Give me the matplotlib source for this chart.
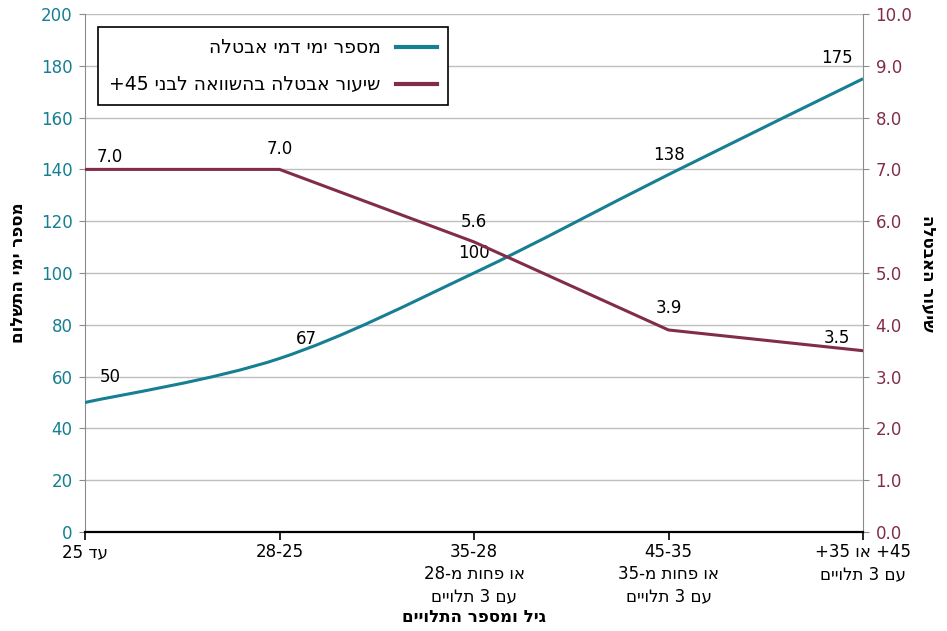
import re
import numpy as np
import matplotlib
matplotlib.use("Agg")
import matplotlib.pyplot as plt
from matplotlib.path import Path
from matplotlib.patches import PathPatch
from matplotlib.lines import Line2D

plt.rcParams['font.family'] = ['DejaVu Sans']


def rtl(s):
    # matplotlib draws left-to-right, so flip the string and put digit runs back
    r = s[::-1]
    return re.sub(r'[0-9.]+', lambda m: m.group(0)[::-1], r)


categories = [
    rtl("עד 25"),
    rtl("25-28"),
    "\n".join([rtl("28-35"), rtl("או פחות מ-28"), rtl("עם 3 תלויים")]),
    "\n".join([rtl("35-45"), rtl("או פחות מ-35"), rtl("עם 3 תלויים")]),
    "\n".join([rtl("45+ או 35+"), rtl("עם 3 תלויים")]),
]
days = [50, 67, 100, 138, 175]
rate = [7.0, 7.0, 5.6, 3.9, 3.5]

label_days = rtl("מספר ימי דמי אבטלה")
label_rate = rtl("שיעור אבטלה בהשוואה לבני 45+")
ylabel_left = rtl("מספר ימי התשלום")
ylabel_right = rtl("שיעור האבטלה")
xlabel = rtl("גיל ומספר התלויים")

TEAL = "#167f92"
MAROON = "#822d47"

fig = plt.figure(figsize=(9.47, 6.31), dpi=100)
ax = fig.add_axes([85 / 947, 99 / 631, 778 / 947, 518 / 631])
ax2 = ax.twinx()

x = np.arange(len(days))


def smooth_path(xs, ys, t=0.5):
    # Catmull-Rom style bezier through the points (smoothed line)
    pts = np.column_stack([xs, ys]).astype(float)
    verts = [pts[0]]
    codes = [Path.MOVETO]
    n = len(pts)
    for i in range(n - 1):
        p0 = pts[i - 1] if i > 0 else pts[i]
        p1 = pts[i]
        p2 = pts[i + 1]
        p3 = pts[i + 2] if i + 2 < n else pts[i + 1]
        c1 = p1 + (p2 - p0) * t / 3
        c2 = p2 - (p3 - p1) * t / 3
        verts += [c1, c2, p2]
        codes += [Path.CURVE4] * 3
    return Path(verts, codes)


ax.add_patch(PathPatch(smooth_path(x, days), facecolor="none", edgecolor=TEAL,
                       lw=2.2, zorder=3, capstyle="butt"))
ax2.plot(x, rate, color=MAROON, lw=2.2, zorder=3)

ax.set_xlim(0, 4)
ax.set_ylim(0, 200)
ax2.set_ylim(0, 10)
ax.set_yticks(range(0, 201, 20))
ax2.set_yticks(np.arange(0, 10.01, 1.0))
ax2.set_yticklabels([f"{v:.1f}" for v in np.arange(0, 10.01, 1.0)])
ax.set_xticks(x)
ax.set_xticklabels(categories, fontsize=12, linespacing=1.3)

ax.grid(axis="y", color="#bfbfbf", lw=1)
ax.set_axisbelow(True)
ax.tick_params(axis="y", labelcolor=TEAL, labelsize=12, length=4,
               color="#8c8c8c", pad=5)
ax2.tick_params(axis="y", labelcolor=MAROON, labelsize=12, length=4,
                color="#8c8c8c", pad=5)
ax.tick_params(axis="x", length=6, width=1.2, color="black", pad=2)

ax.spines["top"].set_visible(False)
ax2.spines["top"].set_visible(False)
ax.spines["left"].set_color("#8c8c8c")
ax2.spines["left"].set_visible(False)
ax2.spines["right"].set_color("#8c8c8c")
ax.spines["right"].set_visible(False)
ax2.spines["bottom"].set_color("black")
ax2.spines["bottom"].set_linewidth(1.6)
ax.spines["bottom"].set_visible(False)

ax.set_ylabel(ylabel_left, fontsize=12, fontweight="bold", labelpad=10)
ax2.set_ylabel(ylabel_right, fontsize=12, fontweight="bold", rotation=270,
               labelpad=18)
ax.set_xlabel(xlabel, fontsize=12, fontweight="bold", labelpad=2)

# value labels, offsets in pixels from each point
day_offsets = [(25, 26), (27, 19), (0, 20), (0, 20), (-26, 21)]
for xi, v, (dx, dy) in zip(x, days, day_offsets):
    ax.annotate(f"{v}", (xi, v), xytext=(dx, dy), textcoords="offset pixels",
                ha="center", va="center", fontsize=12, zorder=5)
rate_offsets = [(25, 12), (0, 20), (0, 20), (0, 22), (-26, 13)]
for xi, v, (dx, dy) in zip(x, rate, rate_offsets):
    ax2.annotate(f"{v:.1f}", (xi, v), xytext=(dx, dy), textcoords="offset pixels",
                 ha="center", va="center", fontsize=12, zorder=5)

handles = [Line2D([], [], color=TEAL, lw=3), Line2D([], [], color=MAROON, lw=3)]
leg = ax2.legend(handles, [label_days, label_rate], loc="upper left",
                 bbox_to_anchor=(13 / 778, 1 - 13 / 518), borderaxespad=0,
                 markerfirst=False, fontsize=13.5, frameon=True, fancybox=False,
                 edgecolor="black", framealpha=1, borderpad=0.6,
                 labelspacing=0.95, handlelength=2.2, handletextpad=0.8)
leg.get_frame().set_linewidth(1.2)
for t in leg.get_texts():
    t.set_ha("right")

fig.savefig("out.png", dpi=100)
